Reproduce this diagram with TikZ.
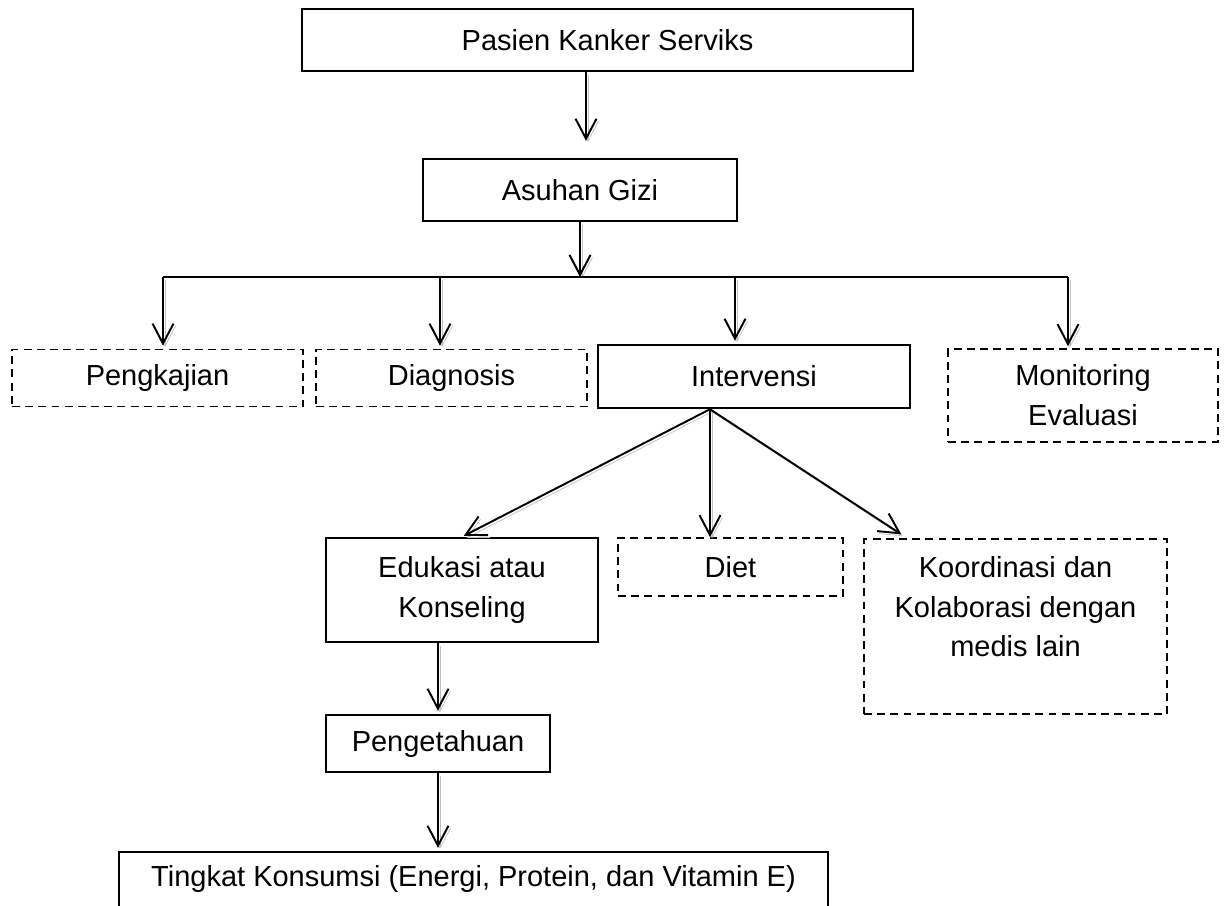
\documentclass[tikz,border=0pt]{standalone}
\usepackage{fontspec}
\setmainfont{Liberation Sans}
\usetikzlibrary{arrows.meta, calc, positioning}

\begin{document}
\begin{tikzpicture}[
        x=0.02cm, y=-0.02cm,
        font=\fontsize{16.5}{22.7}\selectfont,
        box/.style={rectangle, draw, line width=1.4pt, align=center, inner sep=0pt},
        dbox/.style={rectangle, draw, dash pattern=on 4.5pt off 3pt, line width=0.9pt, align=center, inner sep=0pt},
        arr/.style={-{Straight Barb[length=0.4cm, width=0.42cm]}, line width=1.1pt, preaction={draw=gray!50, transform canvas={shift={(2,2.5)}}}}
    ]
    \useasboundingbox (0,0) rectangle (1228,906);
    % Top
    \node[box, minimum width=12.22cm, minimum height=1.24cm] (pasien) at (607.5,40) {Pasien Kanker Serviks};
    \node[box, minimum width=6.28cm, minimum height=1.24cm] (asuhan) at (580,190) {Asuhan Gizi};
    % Steps
    \node[dbox, minimum width=5.82cm, minimum height=1.14cm] (pengkajian) at (157.5,378) {Pengkajian};
    \node[dbox, minimum width=5.42cm, minimum height=1.14cm] (diagnosis) at (451.5,378) {Diagnosis};
    \node[box, minimum width=6.24cm, minimum height=1.26cm] (intervensi) at (754,376.5) {Intervensi};
    \node[dbox, minimum width=5.40cm, minimum height=1.86cm] (monitoring) at (1083,395.5) {Monitoring\\Evaluasi};
    % Intervention
    \node[box, minimum width=5.44cm, minimum height=2.08cm] (edukasi) at (462,590) {Edukasi atau\\Konseling};
    \node[dbox, minimum width=4.5cm, minimum height=1.16cm] (diet) at (730.5,567) {Diet};
    \node[dbox, minimum width=6.06cm, minimum height=3.5cm] (koordinasi) at (1015.5,626.5) {Koordinasi dan\\Kolaborasi dengan\\medis lain\\\mbox{}};
    % Outcome
    \node[box, minimum width=4.48cm, minimum height=1.14cm] (pengetahuan) at (438,743.5) {Pengetahuan};
    \node[box, minimum width=14.18cm, minimum height=1.76cm] (tingkat) at (473.5,896) {Tingkat Konsumsi (Energi, Protein, dan Vitamin E)\\\mbox{}};
    % Bus
    \coordinate (busL) at (163,277);
    \coordinate (busR) at (1068,277);
    \coordinate (b2) at (440,277);
    \coordinate (b3) at (735,277);
    \coordinate (ivs) at ($(intervensi.south)+(-44,0)$);
    % Connections
    \draw[arr, shorten >=0.34cm] ($(asuhan.north |- pasien.south)+(6,0)$) -- ($(asuhan.north)+(6,0)$);
    \draw[arr] (asuhan.south) -- (asuhan.south |- busL);
    \draw[line width=1.1pt] (busL) -- (busR);
    \draw[arr, shorten >=0.06cm] (busL) -- (busL |- pengkajian.north);
    \draw[arr, shorten >=0.06cm] (b2) -- (b2 |- diagnosis.north);
    \draw[arr, shorten >=0.06cm] (b3) -- (b3 |- intervensi.north);
    \draw[arr, shorten >=0.04cm] (busR) -- (busR |- monitoring.north);
    \draw[arr, shorten >=0.04cm] (ivs) -- (edukasi.north);
    \draw[arr] (ivs) -- (ivs |- diet.north);
    \draw[arr, shorten >=0.14cm] (ivs) -- ($(koordinasi.north west)+(44,0)$);
    \draw[arr, shorten >=0.06cm] (pengetahuan.north |- edukasi.south) -- (pengetahuan.north);
    \draw[arr, shorten >=0.06cm] (pengetahuan.south) -- (pengetahuan.south |- tingkat.north);
\end{tikzpicture}
\end{document}
